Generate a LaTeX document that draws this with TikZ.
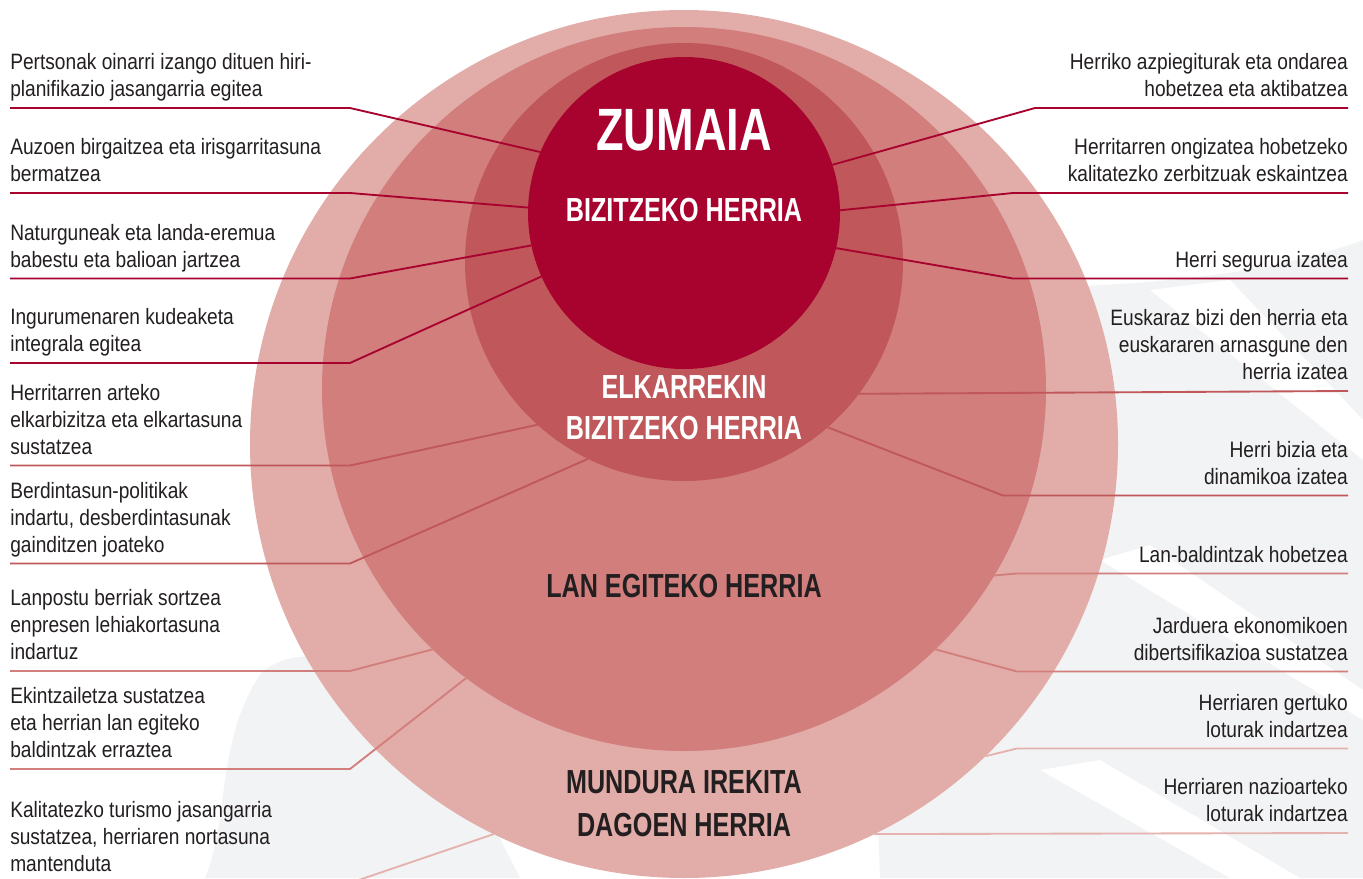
\documentclass[tikz,border=0pt]{standalone}
\usepackage{fontspec}
\setmainfont{Liberation Sans}
\newfontfamily\labelfont[FakeStretch=0.86]{Liberation Sans}
\newfontfamily\headfont[FakeStretch=0.755]{Liberation Sans}
\definecolor{mundured}{HTML}{E2ADA8}
\definecolor{lanred}{HTML}{D17E7D}
\definecolor{elkred}{HTML}{C0575A}
\definecolor{bizired}{HTML}{A8032F}
\definecolor{mundutie}{HTML}{E5B3AF}
\definecolor{txtgray}{HTML}{231F20}
\definecolor{bggray}{HTML}{F2F3F4}

\begin{document}
\begin{tikzpicture}[x=0.75pt,y=-0.75pt,
  ring/.style={circle,inner sep=0pt,outer sep=0pt},
  lbl/.style={font=\labelfont\fontsize{16.7pt}{20.25pt}\selectfont,text=txtgray,inner sep=0pt,text depth=0pt},
  lbll/.style={lbl,align=left,anchor=south west},
  lblr/.style={lbl,align=right,anchor=south east},
  head/.style={font=\headfont\bfseries\fontsize{25pt}{30.75pt}\selectfont,align=center,inner sep=0pt},
  tie/.style={line width=1.4pt}]
\useasboundingbox (0,0) rectangle (1363,878);
\clip (0,0) rectangle (1363,878);
\fill[white] (0,0) rectangle (1363,878);
\fill[bggray] (262,672) .. controls (300,640) and (380,660) .. (430,700) -- (520,878) -- (205,878) .. controls (230,820) and (215,740) .. (262,672) -- cycle;
\fill[bggray] (860,300) .. controls (1000,280) and (1200,300) .. (1363,240) -- (1363,878) -- (880,878) -- cycle;
\fill[white] (1150,290) -- (1230,280) -- (1363,420) -- (1363,460) -- cycle;
\fill[white] (1100,560) -- (1150,545) -- (1363,690) -- (1363,720) -- cycle;
\fill[white] (1040,770) -- (1100,760) -- (1300,878) -- (1230,878) -- cycle;

\node[ring,fill=mundured,minimum size=651pt] (mundu) at (684,444) {};
\node[ring,fill=lanred,minimum size=543pt] (lan) at (684,389) {};
\node[ring,fill=elkred,minimum size=328.5pt] (elk) at (684,262) {};
\node[ring,fill=bizired,minimum size=234pt] (bizi) at (684,213) {};

\node[head,font=\headfont\bfseries\fontsize{44.8pt}{50pt}\selectfont,text=white] (zumaia) at (684,130) {ZUMAIA};
\node[head,text=white] (bizitxt) at (684,210) {BIZITZEKO HERRIA};
\node[head,text=white] (elktxt) at (684,407.5) {ELKARREKIN\\BIZITZEKO HERRIA};
\node[head,text=txtgray] (lantxt) at (684,586) {LAN EGITEKO HERRIA};
\node[head,text=txtgray,font=\headfont\bfseries\fontsize{25pt}{32.25pt}\selectfont] (mundutxt) at (684,804) {MUNDURA IREKITA\\DAGOEN HERRIA};

\node[lbll] (l1) at (10,97) {Pertsonak oinarri izango dituen hiri-\\planifikazio jasangarria egitea};
\node[lbll] (l2) at (10,182) {Auzoen birgaitzea eta irisgarritasuna\\bermatzea};
\node[lbll] (l3) at (10,267.5) {Naturguneak eta landa-eremua\\babestu eta balioan jartzea};
\node[lbll] (l4) at (10,352) {Ingurumenaren kudeaketa\\integrala egitea};
\node[lbll] (l5) at (10,454.5) {Herritarren arteko\\elkarbizitza eta elkartasuna\\sustatzea};
\node[lbll] (l6) at (10,552.5) {Berdintasun-politikak\\indartu, desberdintasunak\\gainditzen joateko};
\node[lbll] (l7) at (10,660) {Lanpostu berriak sortzea\\enpresen lehiakortasuna\\indartuz};
\node[lbll] (l8) at (10,758) {Ekintzailetza sustatzea\\eta herrian lan egiteko\\baldintzak erraztea};
\node[lbll] (l9) at (10,872) {Kalitatezko turismo jasangarria\\sustatzea, herriaren nortasuna\\mantenduta};

\node[lblr] (r1) at (1348,97) {Herriko azpiegiturak eta ondarea\\hobetzea eta aktibatzea};
\node[lblr] (r2) at (1348,182) {Herritarren ongizatea hobetzeko\\kalitatezko zerbitzuak eskaintzea};
\node[lblr] (r3) at (1348,267.5) {Herri segurua izatea};
\node[lblr] (r4) at (1348,380) {Euskaraz bizi den herria eta\\euskararen arnasgune den\\herria izatea};
\node[lblr] (r5) at (1348,484.5) {Herri bizia eta\\dinamikoa izatea};
\node[lblr] (r6) at (1348,562.5) {Lan-baldintzak hobetzea};
\node[lblr] (r7) at (1348,660.5) {Jarduera ekonomikoen\\dibertsifikazioa sustatzea};
\node[lblr] (r8) at (1348,737.5) {Herriaren gertuko\\loturak indartzea};
\node[lblr] (r9) at (1348,822) {Herriaren nazioarteko\\loturak indartzea};

\coordinate (l1s) at (10,108);
\coordinate (l1k) at (350,108);
\coordinate (l2s) at (10,193);
\coordinate (l2k) at (350,193);
\coordinate (l3s) at (10,278.5);
\coordinate (l3k) at (350,278.5);
\coordinate (l4s) at (10,363);
\coordinate (l4k) at (350,363);
\coordinate (l5s) at (10,465.5);
\coordinate (l5k) at (350,465.5);
\coordinate (l6s) at (10,563.5);
\coordinate (l6k) at (350,563.5);
\coordinate (l7s) at (10,671);
\coordinate (l7k) at (350,671);
\coordinate (l8s) at (10,769);
\coordinate (l8k) at (350,769);
\coordinate (l9s) at (10,883);
\coordinate (l9k) at (350,883);
\coordinate (r1s) at (1348,108);
\coordinate (r1k) at (1035,108);
\coordinate (r2s) at (1348,193);
\coordinate (r2k) at (1013,193);
\coordinate (r3s) at (1348,278.5);
\coordinate (r3k) at (1013,278.5);
\coordinate (r4s) at (1348,391);
\coordinate (r5s) at (1348,495.5);
\coordinate (r5k) at (1003,495.5);
\coordinate (r6s) at (1348,573.5);
\coordinate (r6k) at (1017,573.5);
\coordinate (r7s) at (1348,671.5);
\coordinate (r7k) at (1017,671.5);
\coordinate (r8s) at (1348,748.5);
\coordinate (r8k) at (1017,748.5);
\coordinate (r9s) at (1348,833);

\draw[tie,bizired] (l1s) -- (l1k) -- (bizi.157.7);
\draw[tie,bizired] (l2s) -- (l2k) -- (bizi.178.5);
\draw[tie,bizired] (l3s) -- (l3k) -- (bizi.192.7);
\draw[tie,bizired] (l4s) -- (l4k) -- (bizi.204.4);
\draw[tie,elkred] (l5s) -- (l5k) -- (elk.228.5);
\draw[tie,elkred] (l6s) -- (l6k) -- (elk.244.1);
\draw[tie,lanred] (l7s) -- (l7k) -- (lan.226.1);
\draw[tie,lanred] (l8s) -- (l8k) -- (lan.233.6);
\draw[tie,mundutie] (l9s) -- (l9k) -- (mundu.244.6);
\draw[tie,bizired] (r1s) -- (r1k) -- (bizi.18.9);
\draw[tie,bizired] (r2s) -- (r2k) -- (bizi.1.8);
\draw[tie,bizired] (r3s) -- (r3k) -- (bizi.347.5);
\draw[tie,elkred] (r4s) -- (elk.323.9);
\draw[tie,elkred] (r5s) -- (r5k) -- (elk.311.1);
\draw[tie,lanred] (r6s) -- (r6k) -- (lan.329.1);
\draw[tie,lanred] (r7s) -- (r7k) -- (lan.314.9);
\draw[tie,mundutie] (r8s) -- (r8k) -- (mundu.314.3);
\draw[tie,mundutie] (r9s) -- (mundu.296.3);
\end{tikzpicture}
\end{document}
